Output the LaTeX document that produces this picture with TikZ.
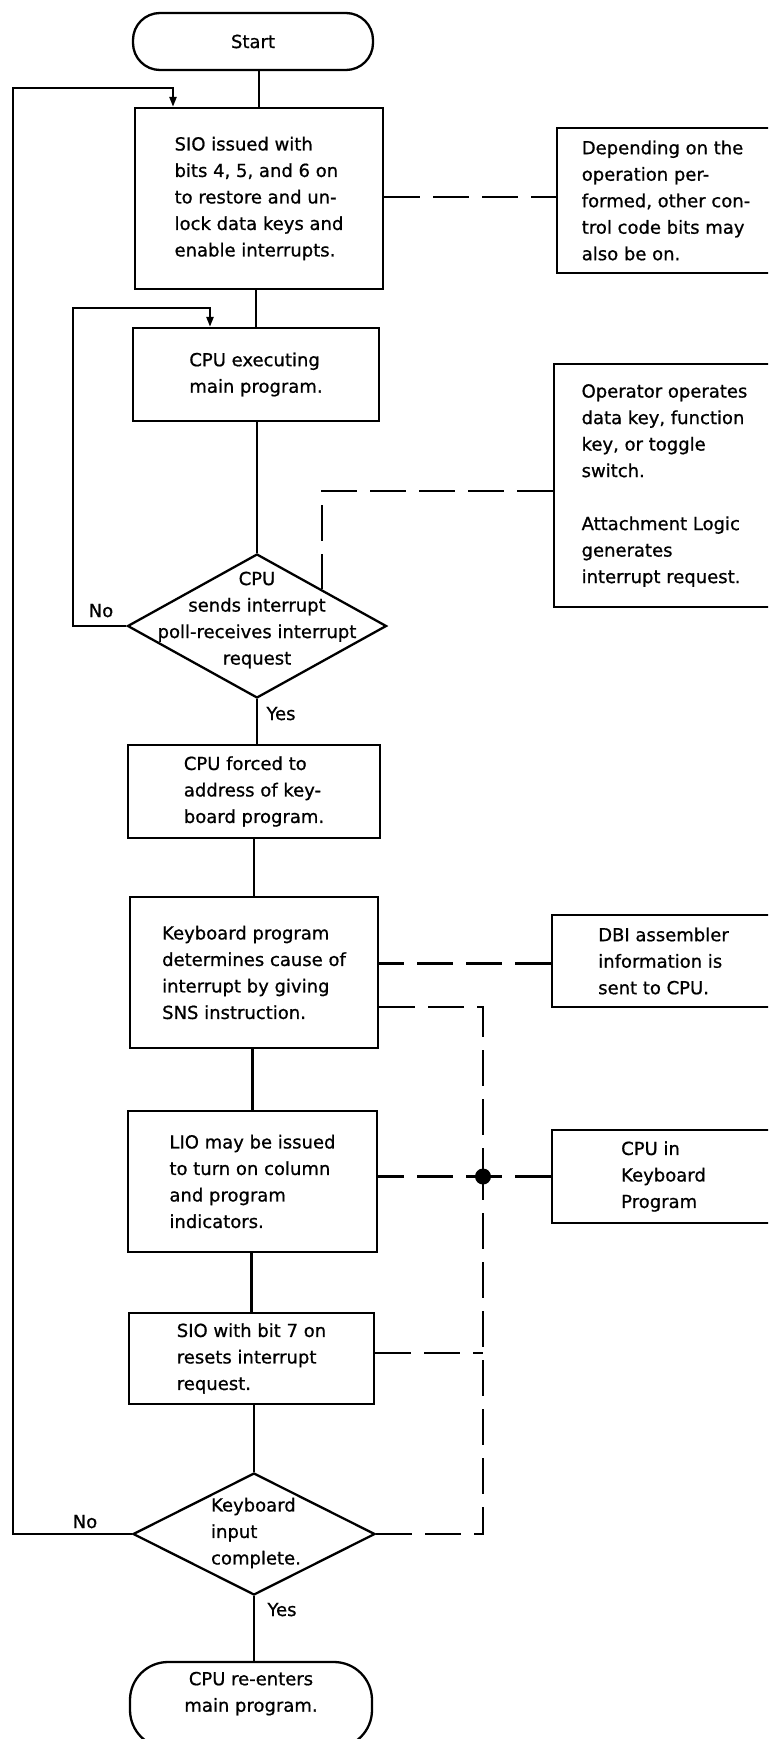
\documentclass[tikz,border=0pt]{standalone}
\usepackage{fontspec}
\newfontfamily\flowfont[FakeBold=0.8]{DejaVu Sans}
\usetikzlibrary{shapes.geometric,arrows.meta}

\begin{document}
\begin{tikzpicture}[x=1pt,y=-1pt,
  every node/.style={font=\flowfont\fontsize{18}{26.5}\selectfont},
  box/.style={draw, line width=2.3pt, rectangle, inner sep=0pt, align=left},
  term/.style={box, rounded corners=#1, align=center},
  decision/.style={draw, line width=2.3pt, diamond, inner sep=0pt},
  flow/.style={line width=2.3pt},
  feed/.style={line width=2.3pt, dash pattern=on 36pt off 13pt},
  tip/.style={-{Triangle[length=10pt,width=7pt]}},
  lbl/.style={anchor=base, inner sep=0pt}
]
% page
\fill[white] (0,0) rectangle (768,1739);
\path[use as bounding box] (0,0) rectangle (768,1739);
\clip (0,0) rectangle (768,1739);

% main column
\node[term=27pt, minimum width=240pt, minimum height=57pt] (start) at (253,41.5) {Start};
\node[box, minimum width=248pt, minimum height=181pt] (sio1) at (259,198.5)
  {SIO issued with\\bits 4, 5, and 6 on\\to restore and un-\\lock data keys and\\enable interrupts.};
\node[box, minimum width=246pt, minimum height=93pt] (cpu1) at (256,374.5)
  {CPU executing\\main program.};
\node[decision, minimum width=259pt, minimum height=144pt] (d1) at (257,626) {};
\node[align=center, inner sep=0pt] (d1t) at (257,620)
  {CPU\\sends interrupt\\poll-receives interrupt\\request};
\node[box, minimum width=252pt, minimum height=93pt] (cpu2) at (254,791.5)
  {CPU forced to\\address of key-\\board program.};
\node[box, minimum width=248pt, minimum height=151pt] (kb) at (254,972.5)
  {Keyboard program\\determines cause of\\interrupt by giving\\SNS instruction.};
\node[box, minimum width=249pt, minimum height=141pt] (lio) at (252.5,1181.5)
  {LIO may be issued\\to turn on column\\and program\\indicators.};
\node[box, minimum width=245pt, minimum height=91pt] (sio2) at (251.5,1358.5)
  {SIO with bit 7 on\\resets interrupt\\request.};
\node[decision, minimum width=242pt, minimum height=122pt] (d2) at (254,1534) {};
\node[align=left, inner sep=0pt] (d2t) at (256,1533)
  {Keyboard\\input\\complete.};
\node[term=38pt, minimum width=242pt, minimum height=86pt] (end) at (251,1705)
  {CPU re-enters\\main program.\\\mbox{}};

% side notes
\node[box, minimum width=218pt, minimum height=145pt] (note1) at (666,200.5)
  {Depending on the\\operation per-\\formed, other con-\\trol code bits may\\also be on.};
\node[box, minimum width=221pt, minimum height=243pt] (note2) at (664.5,485.5)
  {Operator operates\\data key, function\\key, or toggle\\switch.\\[26.5pt]Attachment Logic\\generates\\interrupt request.};
\node[box, minimum width=223pt, minimum height=92pt] (dbi) at (663.5,961)
  {DBI assembler\\information is\\sent to CPU.};
\node[box, minimum width=223pt, minimum height=93pt] (ckp) at (663.5,1176.5)
  {CPU in\\Keyboard\\Program};

% flow lines
\draw[flow] (sio1.north) -- (sio1.north |- start.south);
\draw[flow] (cpu1.north) -- (cpu1.north |- sio1.south);
\draw[flow] (d1.north) -- (d1.north |- cpu1.south);
\draw[flow] (d1.south) -- (d1.south |- cpu2.north);
\draw[flow] (kb.north) -- (kb.north |- cpu2.south);
\draw[flow] (lio.north) -- (lio.north |- kb.south);
\draw[flow] (sio2.north) -- (sio2.north |- lio.south);
\draw[flow] (d2.north) -- (d2.north |- sio2.south);
\draw[flow] (d2.south) -- (d2.south |- end.north);

% return loops
\coordinate (outer) at (13,88);
\draw[flow,tip] (d2.west) -| (outer) -| ([xshift=-86pt]sio1.north);
\coordinate (inner) at (73,308);
\draw[flow,tip] (d1.west) -| (inner) -| ([xshift=-46pt]cpu1.north);

% branch labels
\node[lbl] (no1) at (101,617) {No};
\node[lbl] (yes1) at (281,720) {Yes};
\node[lbl] (no2) at (85,1528) {No};
\node[lbl] (yes2) at (282,1616) {Yes};

% dashed annotation links
\draw[feed] ([yshift=1.5pt]sio1.east) -- ([yshift=1.5pt]sio1.east -| note1.west);
\draw[feed] ([yshift=-5.5pt]note2.west) -| (d1.north east);
\draw[feed] ([yshift=-2.5pt]dbi.west) -- ([yshift=-2.5pt]dbi.west -| kb.east);
\coordinate (bus) at (483,1176.5);
\draw[feed] ([yshift=-34.5pt]kb.east) -| (bus);
\draw[feed] (ckp.west) -- (ckp.west -| lio.east);
\draw[feed] ([yshift=5.5pt]sio2.east) -- ([yshift=5.5pt]sio2.east -| bus);
\draw[feed] (d2.east) -| (bus);
\fill (bus) circle (8pt);
\end{tikzpicture}
\end{document}
